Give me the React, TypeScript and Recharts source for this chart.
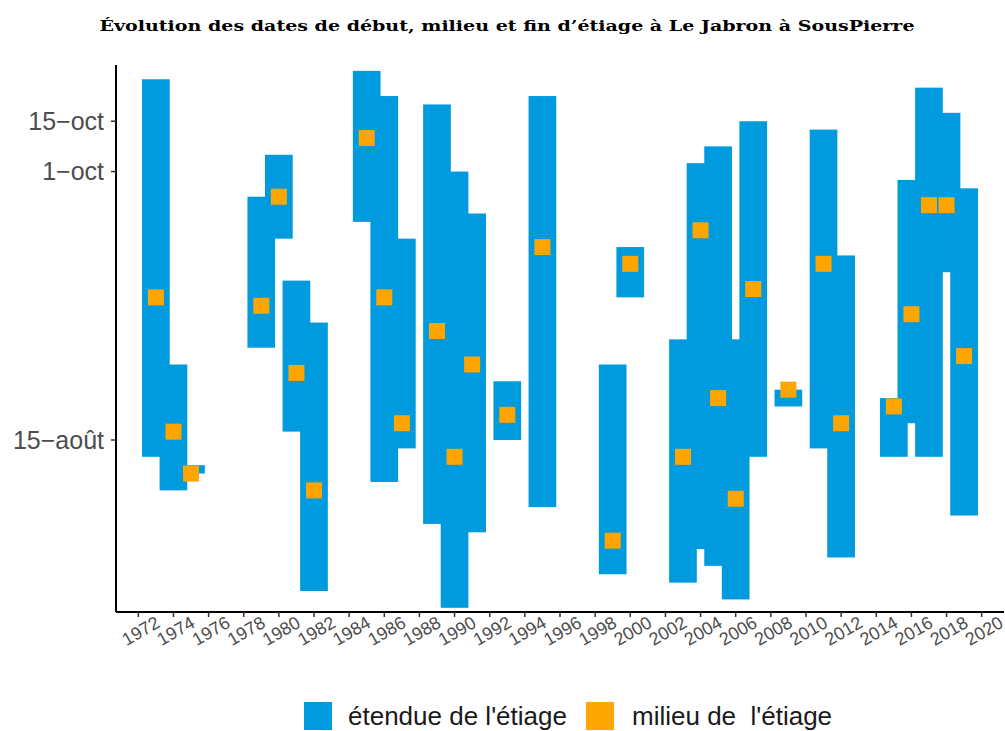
import React from 'react';
import { ComposedChart, Bar, Scatter, XAxis, YAxis } from 'recharts';

// années avec un étiage observé
const years = [1973, 1974, 1975, 1979, 1980, 1981, 1982, 1985, 1986, 1987, 1989, 1990, 1991, 1993, 1995, 1999, 2000, 2003, 2004, 2005, 2006, 2007, 2009, 2011, 2012, 2015, 2016, 2017, 2018, 2019];
// début / fin / milieu, dans l'unité de l'axe vertical
const debut = [225, 221, 223, 238, 251, 228, 209, 253, 222, 226, 217, 207, 216, 227, 219, 211, 244, 210, 214, 212, 208, 225, 231, 226, 213, 225, 229, 225, 247, 218];
const fin = [270, 236, 224, 256, 261, 246, 241, 271, 268, 251, 267, 259, 254, 234, 268, 236, 250, 239, 260, 262, 239, 265, 233, 264, 249, 232, 258, 269, 266, 257];
const milieu = [244, 228, 223, 243, 256, 235, 221, 263, 244, 229, 240, 225, 236, 230, 250, 215, 248, 225, 252, 232, 220, 245, 233, 248, 229, 231, 242, 255, 255, 237];

const xTicks = [1972, 1974, 1976, 1978, 1980, 1982, 1984, 1986, 1988, 1990, 1992, 1994, 1996, 1998, 2000, 2002, 2004, 2006, 2008, 2010, 2012, 2014, 2016, 2018, 2020];
const yTicks = [227, 259, 265];
const yLabels = ['15\u2212août', '1\u2212oct', '15\u2212oct'];

const BLUE = '#009bde';
const ORANGE = '#ffa500';
const FONT = "'Liberation Sans', Arial, sans-serif";
const BAR_W = 27.7;
const SQ = 16;

const rows = years.map((year, i) => ({
  year,
  range: [debut[i], fin[i]],
  mid: milieu[i],
}));

const RangeRect = (props: any) => {
  const { x, y, width, height } = props;
  if (x == null || y == null) return null;
  const cx = x + width / 2;
  const top = height < 0 ? y + height : y;
  return <rect x={cx - BAR_W / 2} y={top} width={BAR_W} height={Math.abs(height)} fill={BLUE} />;
};

const Square = (props: any) => {
  const { cx, cy } = props;
  if (cx == null || cy == null) return null;
  return <rect x={cx - SQ / 2} y={cy - SQ / 2} width={SQ} height={SQ} fill={ORANGE} />;
};

const XTick = ({ x, y, payload }: any) => {
  const tx = x + 2.5;
  const ty = y + 12;
  return (
    <text
      x={tx}
      y={ty}
      transform={`rotate(-30 ${tx} ${ty})`}
      textAnchor="middle"
      dominantBaseline="central"
      fontSize={18}
      fill="#4d4d4d"
      fontFamily={FONT}
    >
      {payload.value}
    </text>
  );
};

export default function App() {
  return (
    <div style={{ position: 'absolute', left: 0, top: 0, width: 1005, height: 731, background: '#fff', fontFamily: FONT }}>
      <svg width={1005} height={731} style={{ position: 'absolute', left: 0, top: 0 }}>
        <text
          x={507}
          y={31}
          textAnchor="middle"
          fontFamily="'DejaVu Serif', serif"
          fontWeight="bold"
          fontSize={15.5}
          textLength={815}
          lengthAdjust="spacingAndGlyphs"
          fill="#000"
        >
          Évolution des dates de début, milieu et fin d’étiage à Le Jabron à SousPierre
        </text>
        <rect x={304} y={702} width={28} height={28} fill={BLUE} />
        <text x={348} y={725} fontSize={26} fill="#1a1a1a" fontFamily={FONT}>
          étendue de l'étiage
        </text>
        <rect x={586} y={702} width={28} height={28} fill={ORANGE} />
        <text x={632} y={725} fontSize={26} fill="#1a1a1a" fontFamily={FONT} style={{ whiteSpace: 'pre' }}>
          milieu de  l'étiage
        </text>
      </svg>
      <div style={{ position: 'absolute', left: 0, top: 0 }}>
        <ComposedChart width={1005} height={731} data={rows} margin={{ top: 65, right: 1, bottom: 79, left: 0 }}>
          <XAxis
            dataKey="year"
            type="number"
            domain={[1970.73, 2021.27]}
            ticks={xTicks}
            interval={0}
            allowDataOverflow
            height={40}
            tickSize={5}
            axisLine={{ stroke: '#000', strokeWidth: 2 }}
            tickLine={{ stroke: '#333', strokeWidth: 1.5 }}
            tick={<XTick />}
          />
          <YAxis
            type="number"
            domain={[206.5, 271.7]}
            ticks={yTicks}
            interval={0}
            allowDataOverflow
            width={116}
            tickSize={5}
            tickMargin={7}
            tickFormatter={(v: number) => yLabels[yTicks.indexOf(v)] ?? ''}
            axisLine={{ stroke: '#000', strokeWidth: 2 }}
            tickLine={{ stroke: '#333', strokeWidth: 1.5 }}
            tick={{ fill: '#4d4d4d', fontSize: 25, fontFamily: FONT }}
          />
          <Bar dataKey="range" shape={<RangeRect />} isAnimationActive={false} />
          <Scatter dataKey="mid" shape={<Square />} isAnimationActive={false} />
        </ComposedChart>
      </div>
    </div>
  );
}
